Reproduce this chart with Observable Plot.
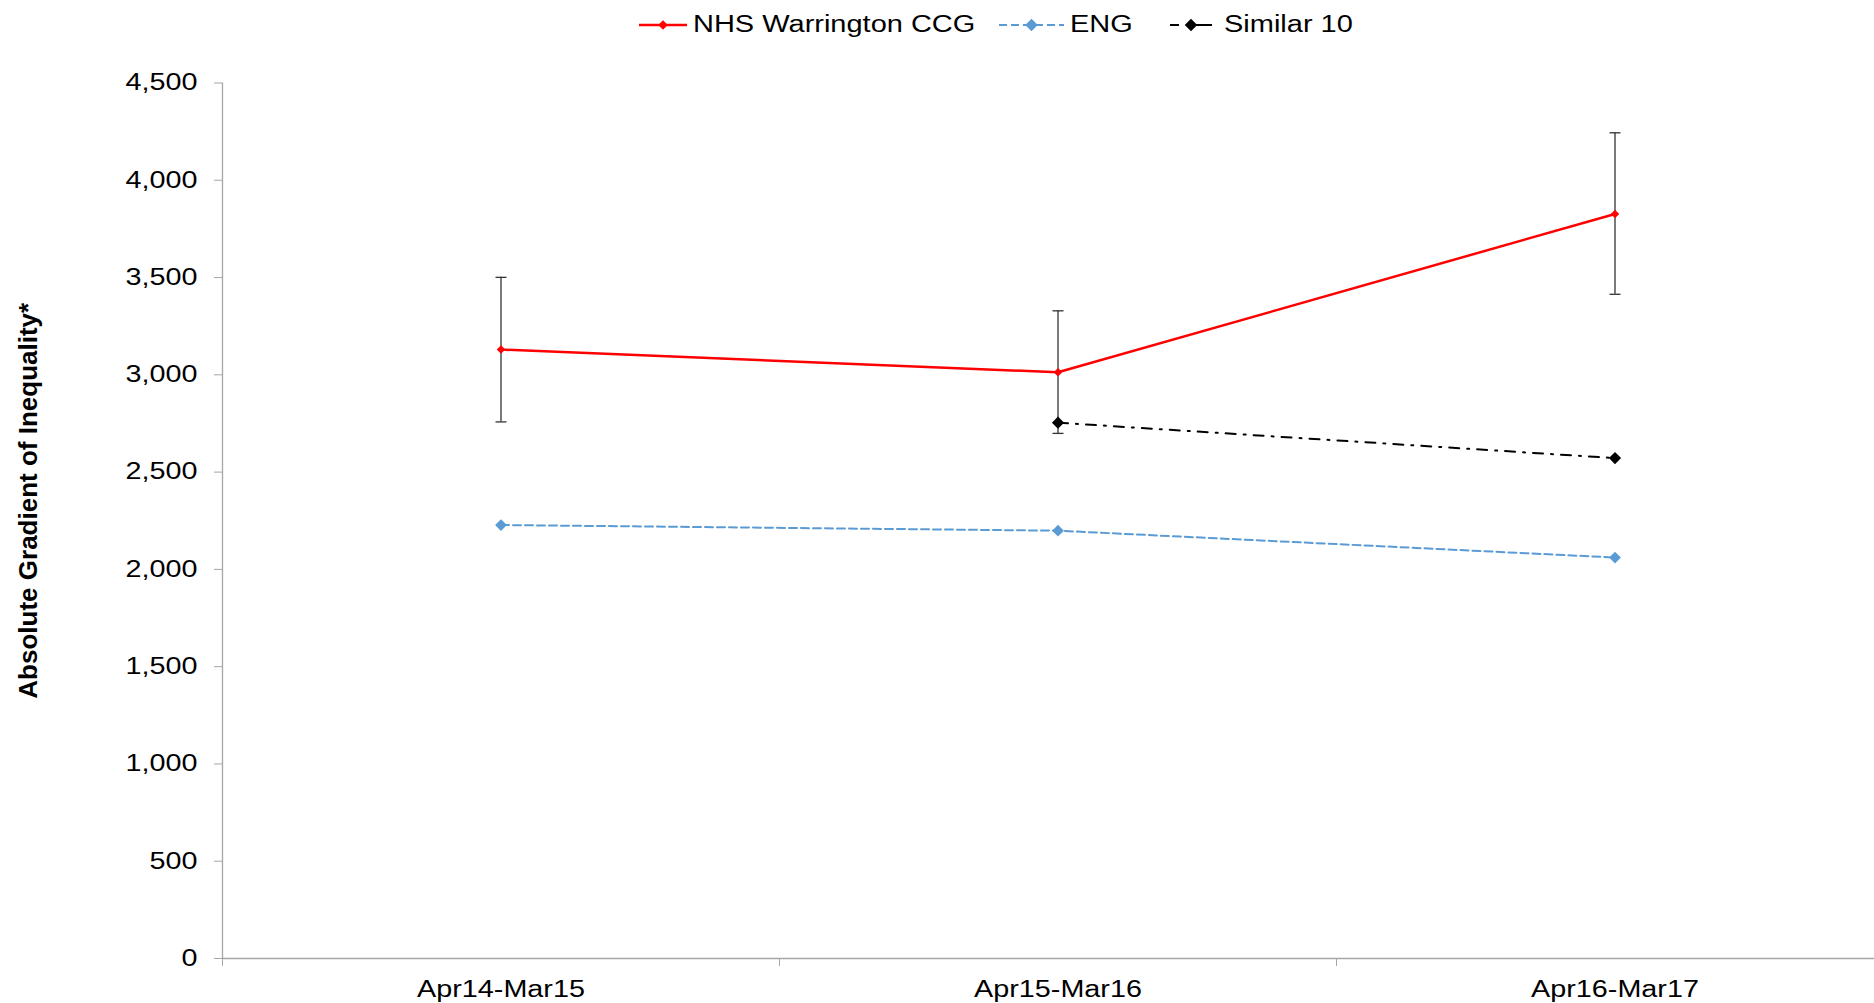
<!DOCTYPE html>
<html><head><meta charset="utf-8">
<script src="https://cdn.jsdelivr.net/npm/d3@7"></script>
<script src="https://cdn.jsdelivr.net/npm/@observablehq/plot@0.6"></script>
<style>
body{margin:0;background:#fff;font-family:"Liberation Sans",Arial,sans-serif;}
#legend{position:relative;height:48px;width:1874px;font-size:23px;color:#000;}
.item{position:absolute;top:12px;height:24px;display:flex;align-items:center;}
.item svg{display:block;}
.item span{display:inline-block;transform:scaleX(1.26);transform-origin:left center;white-space:nowrap;line-height:24px;}
</style></head>
<body>
<div id="legend"></div>
<div id="chart"></div>
<script>
// ---- data ----
const periods = ["Apr14-Mar15", "Apr15-Mar16", "Apr16-Mar17"];
const ccgValues = [3130, 3013, 3827];
const ccgLower = [2758, 2699, 3414];
const ccgUpper = [3501, 3329, 4244];
const engValues = [2228, 2199, 2061];
const similarValues = [null, 2754, 2572];
const yTicks = [0, 500, 1000, 1500, 2000, 2500, 3000, 3500, 4000, 4500];
const seriesNames = ["NHS Warrington CCG", "ENG", "Similar 10"];
const seriesColors = ["#FF0000", "#5B9BD5", "#000000"];
const yLabel = "Absolute Gradient of Inequality*";

// ---- tables ----
const pos = i => i + 0.5; // category centre on the linear x scale
const ccg = periods.map((p, i) => ({x: pos(i), y: ccgValues[i], lo: ccgLower[i], hi: ccgUpper[i]}));
const eng = periods.map((p, i) => ({x: pos(i), y: engValues[i]}));
const sim = periods.map((p, i) => ({x: pos(i), y: similarValues[i]})).filter(d => d.y != null);
const caps = ccg.flatMap(d => [{x: d.x, y: d.lo}, {x: d.x, y: d.hi}]);

const hline = {draw(ctx, size) { const r = Math.sqrt(size / Math.PI); ctx.moveTo(-r, 0); ctx.lineTo(r, 0); }};
const axisGray = "#a6a6a6";
const errColor = "#333333";

const chart = Plot.plot({
  width: 1874,
  height: 955,
  marginTop: 34.5,
  marginBottom: 45,
  marginLeft: 222,
  marginRight: 0,
  style: {fontFamily: "'Liberation Sans', Arial, sans-serif", fontSize: "23px", color: "#000", background: "#fff"},
  x: {type: "linear", domain: [0, periods.length], range: [222, 1893]},
  y: {domain: [0, 4500]},
  marks: [
    Plot.ruleY([0], {x1: 0, x2: periods.length, stroke: axisGray, strokeWidth: 1.3}),
    Plot.ruleX([0], {y1: 0, y2: 4500, stroke: axisGray, strokeWidth: 1.3}),
    Plot.axisY({ticks: yTicks, tickSize: 8, tickPadding: 17, tickFormat: d3.format(","), stroke: axisGray, strokeOpacity: 1, fill: "#000", label: null}),
    Plot.axisX({ticks: d3.range(periods.length + 1), tickSize: 8, tickFormat: () => "", stroke: axisGray, strokeOpacity: 1, label: null}),
    Plot.axisX({ticks: periods.map((p, i) => pos(i)), tickSize: 0, tickPadding: 22, tickFormat: d => periods[Math.floor(d)], fill: "#000", label: null}),
    Plot.text([yLabel], {frameAnchor: "left", textAnchor: "middle", rotate: -90, dx: -194, dy: -20, fontWeight: "bold", fontSize: 26, fill: "#000"}),
    // error bars
    Plot.ruleX(ccg, {x: "x", y1: "lo", y2: "hi", stroke: errColor, strokeWidth: 1.3}),
    Plot.dot(caps, {x: "x", y: "y", symbol: hline, r: 5.5, stroke: errColor, strokeWidth: 1.3, fill: "none"}),
    // lines
    Plot.line(eng, {x: "x", y: "y", stroke: seriesColors[1], strokeWidth: 2, strokeDasharray: "8,4"}),
    Plot.line(sim, {x: "x", y: "y", stroke: seriesColors[2], strokeWidth: 2, strokeDasharray: "10,8,2,8"}),
    Plot.line(ccg, {x: "x", y: "y", stroke: seriesColors[0], strokeWidth: 2.5}),
    // markers
    Plot.dot(eng, {x: "x", y: "y", symbol: "diamond2", r: 5.3, fill: seriesColors[1], stroke: "none"}),
    Plot.dot(sim, {x: "x", y: "y", symbol: "diamond2", r: 5.5, fill: seriesColors[2], stroke: "none"}),
    Plot.dot(ccg, {x: "x", y: "y", symbol: "diamond2", r: 3.8, fill: seriesColors[0], stroke: "none"})
  ]
});
document.getElementById("chart").appendChild(chart);

// horizontal stretch of tick labels (the reference text is widened)
chart.querySelectorAll("text").forEach(t => {
  if (t.textContent === yLabel || t.textContent === "") return;
  const L = t.getComputedTextLength();
  if (L > 0) { t.setAttribute("textLength", L * 1.25); t.setAttribute("lengthAdjust", "spacingAndGlyphs"); }
});

// ---- legend ----
const legendLayout = [
  {left: 639, sw: 48, textLeft: 693, dash: null, r: 3.8},
  {left: 999, sw: 65, textLeft: 1070, dash: "8,4", r: 5},
  {left: 1170, sw: 42, textLeft: 1224, dash: "9,7,30", r: 5}
];
const legend = document.getElementById("legend");
seriesNames.forEach((name, i) => {
  const L = legendLayout[i];
  const sw = document.createElement("div");
  sw.className = "item";
  sw.style.left = L.left + "px";
  const c = L.sw / 2, s = L.r * 1.25;
  sw.innerHTML = `<svg width="${L.sw}" height="24"><line x1="0" x2="${L.sw}" y1="13" y2="13" stroke="${seriesColors[i]}" stroke-width="${i === 0 ? 2.5 : 2}" ${L.dash ? `stroke-dasharray="${L.dash}"` : ""}/><path d="M${c},${13 - s}L${c + s},13L${c},${13 + s}L${c - s},13Z" fill="${seriesColors[i]}"/></svg>`;
  legend.appendChild(sw);
  const tx = document.createElement("div");
  tx.className = "item";
  tx.style.left = L.textLeft + "px";
  tx.innerHTML = `<span>${name}</span>`;
  legend.appendChild(tx);
});
</script>
</body></html>
